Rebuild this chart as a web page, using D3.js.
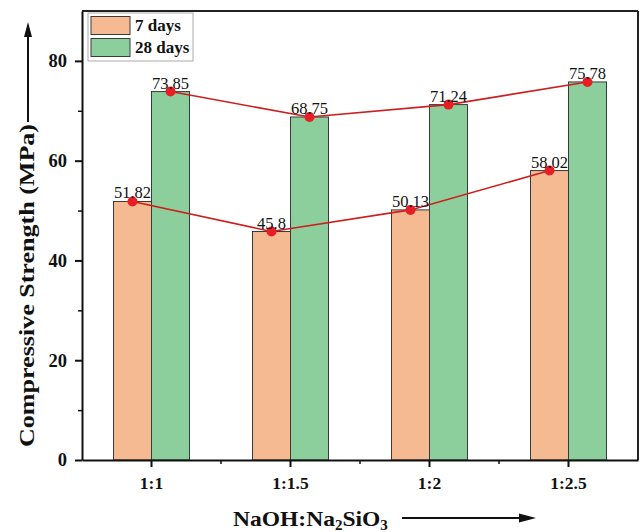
<!DOCTYPE html>
<html>
<head>
<meta charset="utf-8">
<script src="https://cdn.jsdelivr.net/npm/d3@7"></script>
<style>
  html, body { margin: 0; padding: 0; background: #fff; }
  svg { display: block; }
  text { font-family: "Liberation Serif", "Times New Roman", serif; }
</style>
</head>
<body>
<svg id="chart" width="641" height="532"></svg>
<script>
const categories = ["1:1", "1:1.5", "1:2", "1:2.5"];
const seriesNames = ["7 days", "28 days"];
const days7 = [51.82, 45.8, 50.13, 58.02];
const days28 = [73.85, 68.75, 71.24, 75.78];
const days7Labels = ["51.82", "45.8", "50.13", "58.02"];
const days28Labels = ["73.85", "68.75", "71.24", "75.78"];
const yTicks = [0, 20, 40, 60, 80];
const yMinorTicks = [10, 30, 50, 70];

const colors = { "7 days": "#F5BA92", "28 days": "#8DCF9C" };
const serif = "Liberation Serif";

const svg = d3.select("#chart");
const pLeft = 82, pRight = 638, pTop = 11, pBottom = 460;

const x = d3.scaleBand().domain(categories).range([pLeft, pRight]).padding(0);
const y = d3.scaleLinear().domain([0, 90]).range([pBottom, pTop]);
const barW = 38;

const series = [
  { name: "7 days", values: days7, labels: days7Labels, offset: -1 },
  { name: "28 days", values: days28, labels: days28Labels, offset: 0 }
];

const cx = c => x(c) + x.bandwidth() / 2;

// bars
series.forEach(s => {
  svg.append("g").selectAll("rect").data(categories).join("rect")
    .attr("x", c => cx(c) + s.offset * barW)
    .attr("y", (c, i) => y(s.values[i]))
    .attr("width", barW)
    .attr("height", (c, i) => y(0) - y(s.values[i]))
    .attr("fill", colors[s.name])
    .attr("stroke", "#3a3a3a")
    .attr("stroke-width", 1);
});

// lines and points
series.forEach(s => {
  const pts = categories.map((c, i) => [cx(c) + s.offset * barW + barW / 2, y(s.values[i])]);
  svg.append("path").attr("d", d3.line()(pts))
    .attr("fill", "none").attr("stroke", "#CC1F1F").attr("stroke-width", 1.6);
  svg.append("g").selectAll("circle").data(pts).join("circle")
    .attr("cx", d => d[0]).attr("cy", d => d[1]).attr("r", 5)
    .attr("fill", "#E81E25");
  svg.append("g").selectAll("text").data(pts).join("text")
    .attr("x", d => d[0]).attr("y", d => d[1] - 3)
    .attr("text-anchor", "middle")
    .style("font-family", serif)
    .attr("font-size", 16.5)
    .attr("fill", "#111")
    .text((d, i) => s.labels[i]);
});

// frame top/right
svg.append("line").attr("x1", pLeft).attr("x2", pRight).attr("y1", pTop).attr("y2", pTop)
  .attr("stroke", "#222").attr("stroke-width", 2);
svg.append("line").attr("x1", pRight).attr("x2", pRight).attr("y1", pTop).attr("y2", pBottom)
  .attr("stroke", "#222").attr("stroke-width", 2);

// y axis
const yAxis = svg.append("g").attr("transform", `translate(${pLeft},0)`)
  .call(d3.axisLeft(y).tickValues(yTicks).tickSize(7).tickSizeOuter(0).tickPadding(8));
yAxis.select(".domain").attr("stroke", "#111").attr("stroke-width", 2);
yAxis.selectAll(".tick line").attr("stroke", "#111").attr("stroke-width", 2);
yAxis.selectAll(".tick text").style("font-family", serif).attr("font-weight", "bold")
  .attr("font-size", 18.5).attr("fill", "#111");
svg.append("g").attr("transform", `translate(${pLeft},0)`)
  .call(d3.axisLeft(y).tickValues(yMinorTicks).tickSize(4).tickFormat(""))
  .call(g => g.select(".domain").remove())
  .selectAll(".tick line").attr("stroke", "#111").attr("stroke-width", 1.5);

// x axis
const xAxis = svg.append("g").attr("transform", `translate(0,${pBottom})`)
  .call(d3.axisBottom(x).tickSize(7).tickSizeOuter(0).tickPadding(10));
xAxis.select(".domain").attr("stroke", "#111").attr("stroke-width", 2);
xAxis.selectAll(".tick line").attr("stroke", "#111").attr("stroke-width", 2);
xAxis.selectAll(".tick text").style("font-family", serif).attr("font-weight", "bold")
  .attr("font-size", 17.5).attr("fill", "#111");
// minor x ticks at band boundaries
const bounds = categories.slice(1).map(c => x(c));
svg.append("g").selectAll("line").data(bounds).join("line")
  .attr("x1", d => d).attr("x2", d => d).attr("y1", pBottom).attr("y2", pBottom + 4)
  .attr("stroke", "#111").attr("stroke-width", 1.5);

// legend
const lg = svg.append("g");
lg.append("rect").attr("x", 88).attr("y", 13).attr("width", 105).attr("height", 48)
  .attr("fill", "#fff").attr("stroke", "#aaa").attr("stroke-width", 1);
seriesNames.forEach((n, i) => {
  lg.append("rect").attr("x", 91).attr("y", 16.5 + i * 22).attr("width", 39).attr("height", 18)
    .attr("fill", colors[n]).attr("stroke", "#3a3a3a").attr("stroke-width", 1);
  lg.append("text").attr("x", 135).attr("y", 31 + i * 22).text(n)
    .style("font-family", serif)
    .attr("font-weight", "bold").attr("font-size", 17).attr("fill", "#111");
});

// y title
const ytx = 28;
svg.append("text").attr("transform", `translate(${ytx + 6},285.5) rotate(-90)`)
  .attr("text-anchor", "middle").attr("font-weight", "bold").attr("font-size", 22)
  .style("font-family", serif)
  .attr("textLength", 323).attr("lengthAdjust", "spacingAndGlyphs")
  .attr("fill", "#111").text("Compressive Strength (MPa)");
svg.append("line").attr("x1", ytx).attr("x2", ytx).attr("y1", 122).attr("y2", 34)
  .attr("stroke", "#111").attr("stroke-width", 2);
svg.append("path").attr("d", `M${ytx},22 L${ytx - 4},37 L${ytx + 4},37 Z`).attr("fill", "#111");

// x title
const xt = svg.append("text").attr("transform", "translate(233,526) scale(1.07,1)")
  .attr("x", 0).attr("y", 0).attr("font-weight", "bold")
  .style("font-family", serif)
  .attr("font-size", 22).attr("fill", "#111");
xt.append("tspan").text("NaOH:Na");
xt.append("tspan").attr("font-size", 14).attr("dy", 3.5).text("2");
xt.append("tspan").attr("dy", -3.5).text("SiO");
xt.append("tspan").attr("font-size", 14).attr("dy", 3.5).text("3");
svg.append("line").attr("x1", 402).attr("x2", 522).attr("y1", 518).attr("y2", 518)
  .attr("stroke", "#111").attr("stroke-width", 2);
svg.append("path").attr("d", `M536,518 L519,513.5 L519,522.5 Z`).attr("fill", "#111");
</script>
</body>
</html>
